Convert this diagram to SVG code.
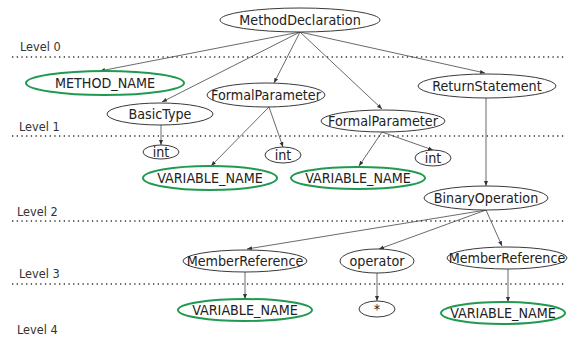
<svg xmlns="http://www.w3.org/2000/svg" width="575" height="340" viewBox="0 0 575 340">
<style>
.n{fill:#fff;stroke:#3a3a3a;stroke-width:1}
.g{fill:#fff;stroke:#1f9a50;stroke-width:2}
.t{font-family:"DejaVu Sans Condensed","DejaVu Sans",sans-serif;font-stretch:condensed;font-size:14.2px;fill:#222;text-anchor:middle}
.lv{font-family:"DejaVu Sans Condensed","DejaVu Sans",sans-serif;font-stretch:condensed;font-size:12.6px;fill:#333}
.dot{stroke:#333;stroke-width:1.6;stroke-dasharray:1.3 3.4;fill:none}
.e{stroke:#444;stroke-width:0.8;fill:none;marker-end:url(#ah)}
</style>
<defs>
<marker id="ah" viewBox="0 0 10 10" refX="10" refY="5" markerWidth="5" markerHeight="5" orient="auto" markerUnits="userSpaceOnUse">
<path d="M0,1 L10,5 L0,9 z" fill="#333"/>
</marker>
</defs>
<rect width="575" height="340" fill="#fff"/>
<g id="levels">
<text class="lv" x="20" y="51">Level 0</text>
<line class="dot" x1="12" y1="57" x2="566" y2="57"/>
<text class="lv" x="19" y="131">Level 1</text>
<line class="dot" x1="12" y1="136" x2="566" y2="136"/>
<text class="lv" x="17" y="216">Level 2</text>
<line class="dot" x1="12" y1="221" x2="566" y2="221"/>
<text class="lv" x="19" y="278">Level 3</text>
<line class="dot" x1="12" y1="284" x2="566" y2="284"/>
<text class="lv" x="17" y="334">Level 4</text>
</g>
<g id="edges">
<line class="e" x1="300" y1="32" x2="100" y2="71"/>
<line class="e" x1="300" y1="32" x2="162" y2="102"/>
<line class="e" x1="300" y1="32" x2="274" y2="83"/>
<line class="e" x1="300" y1="32" x2="382" y2="109"/>
<line class="e" x1="300" y1="32" x2="485" y2="73"/>
<line class="e" x1="161" y1="125" x2="161" y2="145"/>
<line class="e" x1="269" y1="107" x2="211" y2="166"/>
<line class="e" x1="269" y1="107" x2="283" y2="147"/>
<line class="e" x1="382" y1="132" x2="359" y2="166"/>
<line class="e" x1="382" y1="132" x2="433" y2="150"/>
<line class="e" x1="486" y1="98" x2="486" y2="186"/>
<line class="e" x1="486" y1="210" x2="247" y2="249"/>
<line class="e" x1="486" y1="210" x2="379" y2="249"/>
<line class="e" x1="486" y1="210" x2="502" y2="246"/>
<line class="e" x1="245" y1="272" x2="245" y2="299"/>
<line class="e" x1="377" y1="273" x2="377" y2="301"/>
<line class="e" x1="508" y1="269" x2="508" y2="302"/>
</g>
<g id="MethodDeclaration"><ellipse class="n" cx="300" cy="20" rx="80" ry="12"/><text class="t" x="300" y="25.2">MethodDeclaration</text></g>
<g id="METHOD_NAME"><ellipse class="g" cx="105" cy="83" rx="79" ry="12"/><text class="t" x="105" y="88.2">METHOD_NAME</text></g>
<g id="BasicType"><ellipse class="n" cx="160" cy="114" rx="53" ry="11"/><text class="t" x="160" y="119.2">BasicType</text></g>
<g id="FormalParameter1"><ellipse class="n" cx="266" cy="95" rx="59" ry="12"/><text class="t" x="266" y="100.2">FormalParameter</text></g>
<g id="ReturnStatement"><ellipse class="n" cx="487" cy="86" rx="69" ry="12"/><text class="t" x="487" y="91.2">ReturnStatement</text></g>
<g id="FormalParameter2"><ellipse class="n" cx="383" cy="121" rx="62" ry="11"/><text class="t" x="383" y="126.2">FormalParameter</text></g>
<g id="int1"><ellipse class="n" cx="161" cy="152" rx="18" ry="7"/><text class="t" x="161" y="157.2">int</text></g>
<g id="int2"><ellipse class="n" cx="283" cy="155" rx="18" ry="8"/><text class="t" x="283" y="160.2">int</text></g>
<g id="int3"><ellipse class="n" cx="433" cy="158" rx="18" ry="8"/><text class="t" x="433" y="163.2">int</text></g>
<g id="VARIABLE_NAME1"><ellipse class="g" cx="210" cy="178" rx="67" ry="12"/><text class="t" x="210" y="183.2">VARIABLE_NAME</text></g>
<g id="VARIABLE_NAME2"><ellipse class="g" cx="358" cy="178" rx="67" ry="11"/><text class="t" x="358" y="183.2">VARIABLE_NAME</text></g>
<g id="BinaryOperation"><ellipse class="n" cx="486" cy="198" rx="62" ry="12"/><text class="t" x="486" y="203.2">BinaryOperation</text></g>
<g id="MemberReference1"><ellipse class="n" cx="245" cy="261" rx="62" ry="11"/><text class="t" x="245" y="266.2">MemberReference</text></g>
<g id="operator"><ellipse class="n" cx="377" cy="261" rx="37" ry="12"/><text class="t" x="377" y="266.2">operator</text></g>
<g id="MemberReference2"><ellipse class="n" cx="507" cy="258" rx="60" ry="11"/><text class="t" x="507" y="263.2">MemberReference</text></g>
<g id="VARIABLE_NAME3"><ellipse class="g" cx="245" cy="310" rx="67" ry="11"/><text class="t" x="245" y="315.2">VARIABLE_NAME</text></g>
<g id="star"><ellipse class="n" cx="377" cy="309" rx="18" ry="8"/><text class="t" x="377" y="314.2">*</text></g>
<g id="VARIABLE_NAME4"><ellipse class="g" cx="503" cy="313" rx="62" ry="11"/><text class="t" x="503" y="318.2">VARIABLE_NAME</text></g>
</svg>
